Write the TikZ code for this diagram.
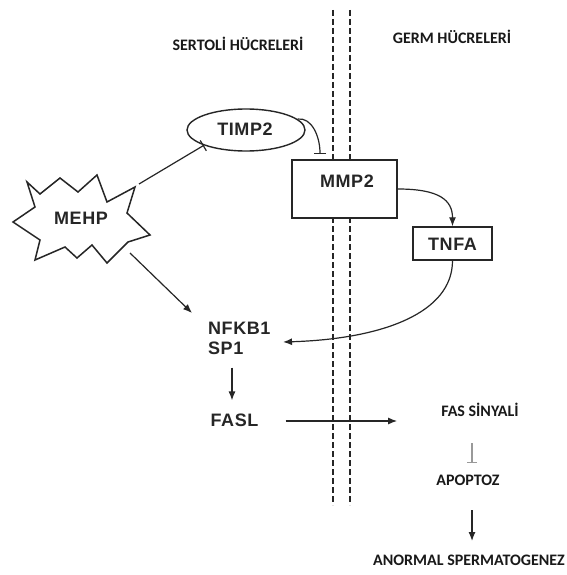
\documentclass[tikz,border=0pt]{standalone}
\usepackage{fontspec}
\usetikzlibrary{arrows.meta,shapes.geometric}
\newfontfamily\labfont[LetterSpace=3]{Liberation Sans}
\newfontfamily\trfont{Carlito}
\tikzset{
  lab/.style={font=\labfont\bfseries\fontsize{18}{20}\selectfont, inner sep=0pt, text=black!85},
  trlab/.style={font=\trfont\bfseries\fontsize{16}{18}\selectfont, inner sep=0pt, text=black!90},
  conn/.style={line width=1.2pt, draw=black!85},
  arr/.style={conn, -{Latex[length=9pt,width=7pt]}},
  inh/.style={conn, -{Bar[width=12pt,line width=1.2pt]}},
  inhgray/.style={line width=1.2pt, draw=black!40, -{Bar[width=10pt,line width=1.2pt]}},
  membrane/.style={draw=black!85, line width=1.6pt, dash pattern=on 6pt off 3pt},
  box/.style={draw=black!85, line width=1.4pt, fill=white, inner sep=0pt},
  burst/.style={draw=black!85, line width=1.5pt, line join=miter, fill=white}
}
\begin{document}
\begin{tikzpicture}[x=1pt,y=-1pt]
\useasboundingbox (0,0) rectangle (566,575);
\fill[white] (0,0) rectangle (566,575);

% membrane
\coordinate (m1top) at (333,10);
\coordinate (m1bot) at (333,505);
\coordinate (m2top) at (350,10);
\coordinate (m2bot) at (350,505);
\draw[membrane] (m1top) -- (m1bot);
\draw[membrane] (m2top) -- (m2bot);

% titles
\node[trlab] (sertoli) at (238,44) {SERTOLİ HÜCRELERİ};
\node[trlab] (germ) at (452,37) {GERM HÜCRELERİ};

% MEHP starburst
\draw[burst] (27,182) -- (40,194) -- (60,178) -- (78,192) -- (97,175) -- (107,202)
  -- (135,187) -- (127,213) -- (150,235) -- (128,242) -- (107,263) -- (92,245)
  -- (77,258) -- (65,247) -- (35,260) -- (40,240) -- (13,222) -- (35,207) -- cycle;
\node[lab] (mehp) at (81,218) {MEHP};
\coordinate (mehpA) at (139,184);
\coordinate (mehpB) at (130,253);

% TIMP2
\node[draw=black!85, line width=1.4pt, ellipse, minimum width=118pt, minimum height=42pt, inner sep=0pt, fill=white] (timp2) at (246,130) {};
\node[lab] (timp2t) at (245,129) {TIMP2};

% MMP2 and TNFA
\node[box, minimum width=105pt, minimum height=58pt] (mmp2) at (344.5,189) {};
\node[lab] (mmp2t) at (347,181) {MMP2};
\node[box, minimum width=79pt, minimum height=33pt] (tnfa) at (452.5,243.5) {};
\node[lab] (tnfat) at (452.5,244) {TNFA};

% NFKB1 / SP1, FASL
\node[lab, anchor=west] (nfkb) at (208,328) {NFKB1};
\node[lab, anchor=west] (sp1) at (208,348) {SP1};
\node[lab] (fasl) at (234.5,420) {FASL};
\coordinate (nfkbIn1) at (192,313);
\coordinate (nfkbIn2) at (283,342);

% right side texts
\node[trlab] (fas) at (480,410) {FAS SİNYALİ};
\node[trlab] (apop) at (468,480) {APOPTOZ};
\node[trlab] (anormal) at (469,560) {ANORMAL SPERMATOGENEZ};

% connectors
\draw[inh] (mehpA) -- (timp2.200);
\coordinate (timpEnd) at (320,154);
\draw[inh] (timp2.12) .. controls +(14,-2) and +(0,-18) .. (timpEnd);
\draw[arr] (mmp2.east) .. controls +(42,0) and +(0,-26) .. (tnfa.north);
\draw[arr] (tnfa.south) .. controls +(0,52) and +(100,-3) .. (nfkbIn2);
\draw[arr] (mehpB) -- (nfkbIn1);
\draw[arr, shorten <=13pt, shorten >=13pt] ([xshift=-2.5pt]fasl.north |- sp1.south) -- ([xshift=-2.5pt]fasl.north);
\draw[arr, shorten <=27pt, shorten >=44pt] ([yshift=-1pt]fasl.east) -- ([yshift=-1pt]fasl.east -| fas.west);
\coordinate (inhTop) at (472,443);
\coordinate (inhBot) at (472,463);
\draw[inhgray] (inhTop) -- (inhBot);
\coordinate (arTop) at (472,510);
\coordinate (arBot) at (472,541);
\draw[arr] (arTop) -- (arBot);
\end{tikzpicture}
\end{document}
